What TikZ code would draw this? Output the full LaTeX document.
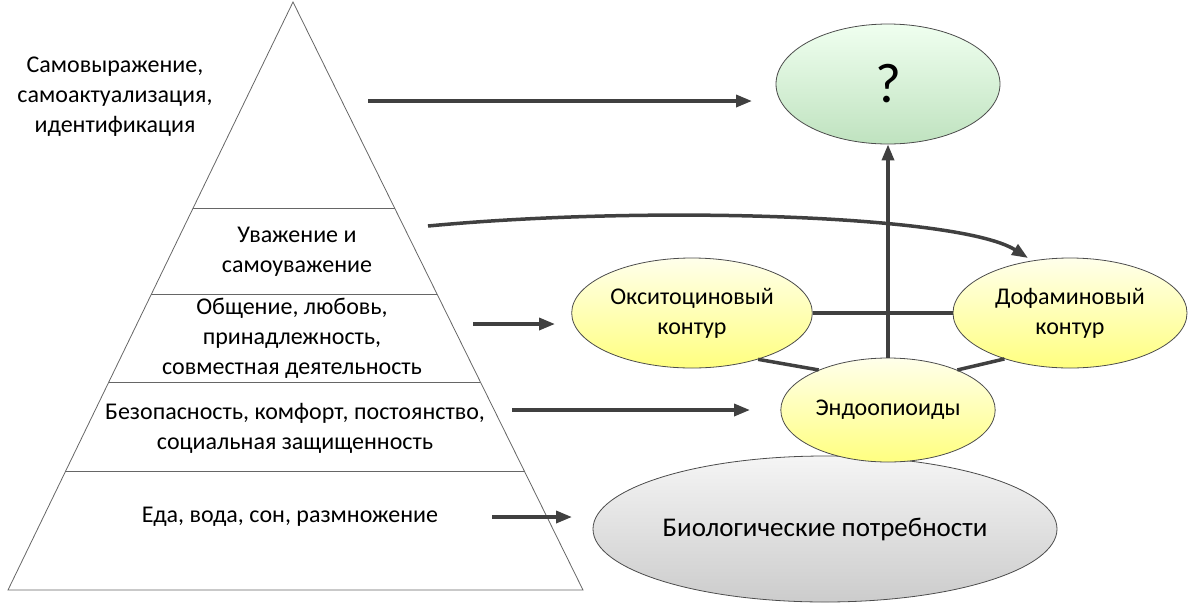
\documentclass[tikz,border=0pt]{standalone}
\usepackage{fontspec}
\setmainfont{Carlito}
\usetikzlibrary{arrows.meta,shapes.geometric}
\tikzset{
  lvl/.style={align=center,font=\fontsize{24}{30}\selectfont},
  circuit/.style={draw=black!70,ellipse,line width=0.8pt,minimum width=224pt,minimum height=110pt,
    top color=yellow!8,bottom color=yellow!50,align=center,font=\fontsize{24}{30}\selectfont},
  arr/.style={-{Triangle[length=16pt,width=12pt]},draw=black!75,line width=3.5pt},
  link/.style={draw=black!75,line width=3.5pt}
}
\begin{document}
\begin{tikzpicture}[x=1pt,y=-1pt]
  \useasboundingbox (0,0) rectangle (1189,606);
  % pyramid
  \draw[black!60,line width=0.8pt] (293,2) -- (8,590) -- (583,590) -- cycle;
  \foreach \yy in {208,294,382,471}
    \draw[black!60,line width=0.8pt] ({293-(\yy-2)/588*285},\yy) -- ({293+(\yy-2)/588*290},\yy);
  \node[lvl] (self) at (115,97) {Самовыражение,\\самоактуализация,\\идентификация};
  \node[lvl] (esteem) at (297,252) {Уважение и\\самоуважение};
  \node[lvl] (love) at (292,338) {Общение, любовь,\\принадлежность,\\совместная деятельность};
  \node[lvl] (safe) at (295,428) {Безопасность, комфорт, постоянство,\\социальная защищенность};
  \node[lvl] (food) at (290,517) {Еда, вода, сон, размножение};
  % circuits
  \node[circuit,minimum width=464pt,minimum height=146pt,inner sep=0pt,top color=black!4,bottom color=black!20,
    font=\fontsize{27}{32}\selectfont] (bio) at (825,529) {Биологические потребности};
  \node[circuit,minimum width=224pt,minimum height=120pt,top color=green!6,bottom color=green!55!black!25!white,
    font=\fontsize{56}{60}\selectfont] (top) at (888,84) {?};
  \node[circuit] (oxy) at (692,313) {Окситоциновый\\контур};
  \node[circuit,minimum width=234pt] (dopa) at (1070,313) {Дофаминовый\\контур};
  \node[circuit,minimum width=204pt,minimum height=104pt] (endo) at (888,410) {Эндоопиоиды};
  % links
  \draw[link] (oxy.east) -- (dopa.west);
  \draw[link] (oxy.-35) -- (endo.150);
  \draw[link] (dopa.-145) -- (endo.30);
  \draw[arr] (endo.north) -- (top.south);
  % arrows
  \coordinate (a1) at (368,101);
  \coordinate (b1) at (752,101);
  \coordinate (a2) at (428,226);
  \coordinate (b2) at (1028,258);
  \coordinate (a3) at (473,324);
  \coordinate (b3) at (555,324);
  \coordinate (a4) at (512,410);
  \coordinate (b4) at (750,410);
  \coordinate (a5) at (492,517);
  \coordinate (b5) at (572,517);
  \draw[arr] (a1) -- (b1);
  \draw[arr] (a2) .. controls (650,205) and (960,215) .. (b2);
  \draw[arr] (a3) -- (b3);
  \draw[arr] (a4) -- (b4);
  \draw[arr] (a5) -- (b5);
\end{tikzpicture}
\end{document}
